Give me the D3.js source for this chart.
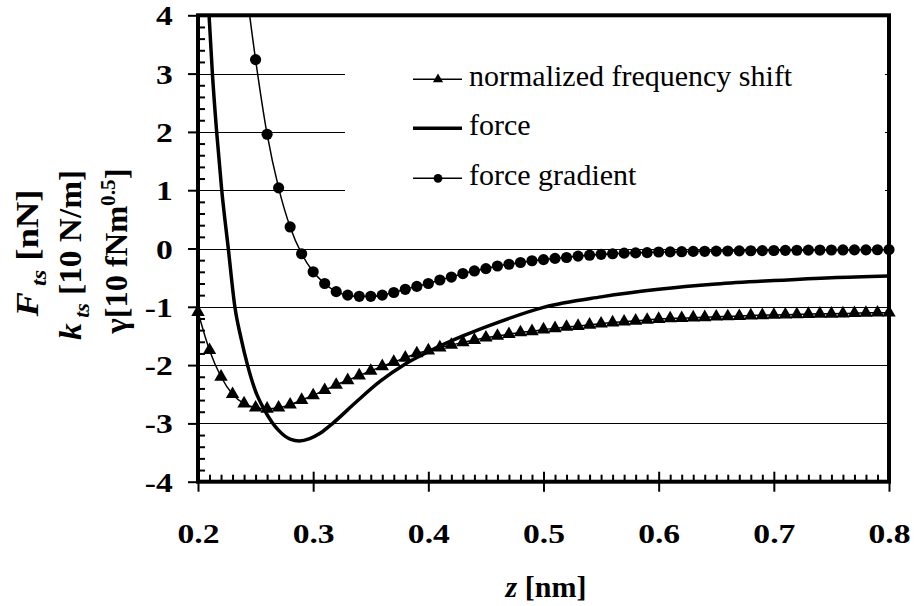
<!DOCTYPE html>
<html>
<head>
<meta charset="utf-8">
<script src="https://cdn.jsdelivr.net/npm/d3@7"></script>
<style>
body { margin: 0; background: #fff; }
svg text { font-family: "Liberation Serif", "Times New Roman", serif; fill: #000; }
</style>
</head>
<body>
<svg id="chart" width="914" height="606"></svg>
<script>
// z grid shared by the two marker series [nm]
var zGrid = [0.20,0.21,0.22,0.23,0.24,0.25,0.26,0.27,0.28,0.29,
             0.30,0.31,0.32,0.33,0.34,0.35,0.36,0.37,0.38,0.39,
             0.40,0.41,0.42,0.43,0.44,0.45,0.46,0.47,0.48,0.49,
             0.50,0.51,0.52,0.53,0.54,0.55,0.56,0.57,0.58,0.59,
             0.60,0.61,0.62,0.63,0.64,0.65,0.66,0.67,0.68,0.69,
             0.70,0.71,0.72,0.73,0.74,0.75,0.76,0.77,0.78,0.79,0.80];

// normalized frequency shift, one value per zGrid entry
var freqShift = [-1.09,-1.745,-2.20,-2.50,-2.66,-2.73,-2.75,-2.73,-2.68,-2.60,
                 -2.52,-2.43,-2.34,-2.26,-2.18,-2.10,-2.02,-1.945,-1.875,-1.80,
                 -1.75,-1.70,-1.655,-1.61,-1.57,-1.53,-1.50,-1.47,-1.44,-1.42,
                 -1.39,-1.37,-1.345,-1.33,-1.31,-1.29,-1.27,-1.255,-1.24,-1.225,
                 -1.21,-1.20,-1.195,-1.185,-1.18,-1.17,-1.165,-1.16,-1.15,-1.145,
                 -1.14,-1.135,-1.13,-1.125,-1.12,-1.12,-1.115,-1.11,-1.105,-1.10,-1.10];

// force gradient, starts at zGrid[4] (0.24 nm, above the plot top)
var gradStart = 4;
var forceGrad = [4.75,3.24,1.96,1.04,0.37,-0.09,
                 -0.40,-0.60,-0.74,-0.80,-0.82,-0.82,-0.80,-0.755,-0.70,-0.65,
                 -0.60,-0.54,-0.49,-0.43,-0.385,-0.345,-0.30,-0.27,-0.24,-0.21,
                 -0.19,-0.17,-0.155,-0.13,-0.115,-0.10,-0.09,-0.08,-0.075,-0.07,
                 -0.06,-0.058,-0.055,-0.05,-0.048,-0.045,-0.043,-0.04,-0.038,-0.036,
                 -0.034,-0.032,-0.03,-0.028,-0.027,-0.026,-0.025,-0.024,-0.023,-0.022,-0.02];

// force curve (no markers), read at uneven z steps
var forceZ = [0.205,0.2096,0.2125,0.2162,0.2206,0.2263,0.232,0.2375,0.243,0.25,0.258,
              0.27,0.28,0.288,0.297,0.306,0.3175,0.338,0.358,0.38,
              0.40,0.43,0.46,0.50,0.55,0.60,0.65,0.70,0.75,0.80];
var forceF = [6.2,4.0,3.0,2.0,1.0,0.0,-1.0,-1.55,-2.0,-2.45,-2.78,
              -3.12,-3.27,-3.30,-3.26,-3.17,-2.99,-2.62,-2.28,-1.98,
              -1.77,-1.50,-1.27,-1.01,-0.83,-0.70,-0.61,-0.55,-0.50,-0.47];

var xTicks = [0.2,0.3,0.4,0.5,0.6,0.7,0.8];
var yTicks = [-4,-3,-2,-1,0,1,2,3,4];
var legendNames = ["normalized frequency shift","force","force gradient"];

var svg = d3.select("#chart");
var x = d3.scaleLinear().domain([0.2,0.8]).range([198,889]);
var y = d3.scaleLinear().domain([-4,4]).range([481.7,15.3]);

// minor tick positions
var xMinor = zGrid.filter(function(d){ return Math.round(d*100) % 10 !== 0; });
var yMinor = [];
yTicks.forEach(function(t){ if (t < 4) [0.2,0.4,0.6,0.8].forEach(function(f){ yMinor.push(+(t+f).toFixed(1)); }); });

svg.append("clipPath").attr("id","plotclip")
  .append("rect").attr("x",198).attr("y",15.3).attr("width",691).attr("height",466.4);

// gridlines
svg.append("g").selectAll("line")
  .data(yTicks.filter(function(d){ return d > -4 && d < 4; }))
  .enter().append("line")
  .attr("x1",198).attr("x2",889)
  .attr("y1",function(d){ return Math.round(y(d))+0.5; })
  .attr("y2",function(d){ return Math.round(y(d))+0.5; })
  .attr("stroke","#000").attr("stroke-width",1);

// legend background hides the gridlines behind it
svg.append("rect").attr("x",345).attr("y",38).attr("width",540).attr("height",178).attr("fill","#fff");

function styleAxis(g){
  g.select(".domain").remove();
  g.selectAll(".tick line").attr("stroke","#000").attr("stroke-width",2);
}

// y axis: major ticks outward + inward, minor ticks inward
svg.append("g").attr("transform","translate(198,0)")
  .call(d3.axisLeft(y).tickValues(yTicks).tickSize(10).tickPadding(11)
        .tickFormat(function(d){ return String(d); }))
  .call(styleAxis)
  .selectAll("text").attr("font-size","28px").attr("font-weight","bold")
  .attr("font-family","Liberation Serif").attr("dy","0.34em")
  .attr("transform","scale(1.2,1)");
svg.append("g").attr("transform","translate(198,0)")
  .call(d3.axisLeft(y).tickValues(yMinor).tickSize(-7).tickFormat(""))
  .call(styleAxis);

// x axis
svg.append("g").attr("transform","translate(0,481.7)")
  .call(d3.axisBottom(x).tickValues(xTicks).tickSize(10).tickPadding(31)
        .tickFormat(d3.format(".1f")))
  .call(styleAxis)
  .selectAll("text").attr("font-size","28px").attr("font-weight","bold")
  .attr("font-family","Liberation Serif")
  .attr("transform","scale(1.2,1)");
svg.append("g").attr("transform","translate(0,481.7)")
  .call(d3.axisBottom(x).tickValues(xTicks).tickSize(-10).tickFormat(""))
  .call(styleAxis);
svg.append("g").attr("transform","translate(0,481.7)")
  .call(d3.axisBottom(x).tickValues(xMinor).tickSize(-7).tickFormat(""))
  .call(styleAxis);

// frame
svg.append("rect").attr("x",198).attr("y",15.3).attr("width",691).attr("height",466.4)
  .attr("fill","none").attr("stroke","#000").attr("stroke-width",4);

// lines are clipped to the plot, markers are not
var plot = svg.append("g").attr("clip-path","url(#plotclip)");

var line = d3.line()
  .x(function(d){ return x(d[0]); })
  .y(function(d){ return y(d[1]); })
  .curve(d3.curveMonotoneX);

var freqData = zGrid.map(function(z,i){ return [z, freqShift[i]]; });
var gradData = forceGrad.map(function(v,i){ return [zGrid[i+gradStart], v]; });
var forceData = forceZ.map(function(z,i){ return [z, forceF[i]]; });

plot.append("path").datum(forceData).attr("d",line)
  .attr("fill","none").attr("stroke","#000").attr("stroke-width",3.5);
plot.append("path").datum(freqData).attr("d",line)
  .attr("fill","none").attr("stroke","#000").attr("stroke-width",1.5);
plot.append("path").datum(gradData).attr("d",line)
  .attr("fill","none").attr("stroke","#000").attr("stroke-width",1.5);

var tri = d3.symbol().type(d3.symbolTriangle).size(78);
var dot = d3.symbol().type(d3.symbolCircle).size(98);

svg.append("g").selectAll("path").data(freqData).enter().append("path")
  .attr("d",tri)
  .attr("transform",function(d){ return "translate(" + x(d[0]) + "," + y(d[1]) + ")"; })
  .attr("fill","#000");
svg.append("g").selectAll("path").data(gradData.filter(function(d){ return d[1] <= 4; })).enter().append("path")
  .attr("d",dot)
  .attr("transform",function(d){ return "translate(" + x(d[0]) + "," + y(d[1]) + ")"; })
  .attr("fill","#000");

// legend
var legendY = [79.3,128.3,178.3];
var legend = svg.append("g").attr("class","legend");
legendNames.forEach(function(name,i){
  var ly = legendY[i];
  legend.append("line").attr("x1",413).attr("x2",462).attr("y1",ly).attr("y2",ly)
    .attr("stroke","#000").attr("stroke-width", i === 1 ? 3.5 : 1.5);
  if (i === 0) legend.append("path").attr("d",d3.symbol().type(d3.symbolTriangle).size(45))
    .attr("transform","translate(438," + ly + ")").attr("fill","#000");
  if (i === 2) legend.append("path").attr("d",d3.symbol().type(d3.symbolCircle).size(60))
    .attr("transform","translate(438," + ly + ")").attr("fill","#000");
  legend.append("text").attr("x",469).attr("y",ly + 7)
    .attr("font-size","30px").text(name);
});

// y axis title, three rotated lines centred near the plot middle
var yTitle = svg.append("g").attr("transform","translate(0,253) rotate(-90)")
  .attr("font-size","32px").attr("font-weight","bold").attr("text-anchor","middle");
var t1 = yTitle.append("text").attr("x",0).attr("y",38).attr("textLength",127).attr("lengthAdjust","spacingAndGlyphs");
t1.append("tspan").attr("font-style","italic").text("F");
t1.append("tspan").attr("font-style","italic").attr("font-size","21px").attr("dy",8).text(" ts");
t1.append("tspan").attr("dy",-8).text("  [nN]");
var t2 = yTitle.append("text").attr("x",-2).attr("y",81).attr("textLength",170).attr("lengthAdjust","spacingAndGlyphs");
t2.append("tspan").attr("font-style","italic").text("k");
t2.append("tspan").attr("font-style","italic").attr("font-size","21px").attr("dy",8).text(" ts");
t2.append("tspan").attr("dy",-8).text("  [10 N/m]");
var t3 = yTitle.append("text").attr("x",2).attr("y",127).attr("textLength",165).attr("lengthAdjust","spacingAndGlyphs");
t3.append("tspan").text("\u03b3[10 fNm");
t3.append("tspan").attr("font-size","21px").attr("dy",-12).text("0.5");
t3.append("tspan").attr("dy",12).text("]");

// x axis title
var xTitle = svg.append("text").attr("x",546).attr("y",597).attr("text-anchor","middle")
  .attr("font-size","30px").attr("font-weight","bold");
xTitle.append("tspan").attr("font-style","italic").text("z");
xTitle.append("tspan").text("  [nm]");
</script>
</body>
</html>
